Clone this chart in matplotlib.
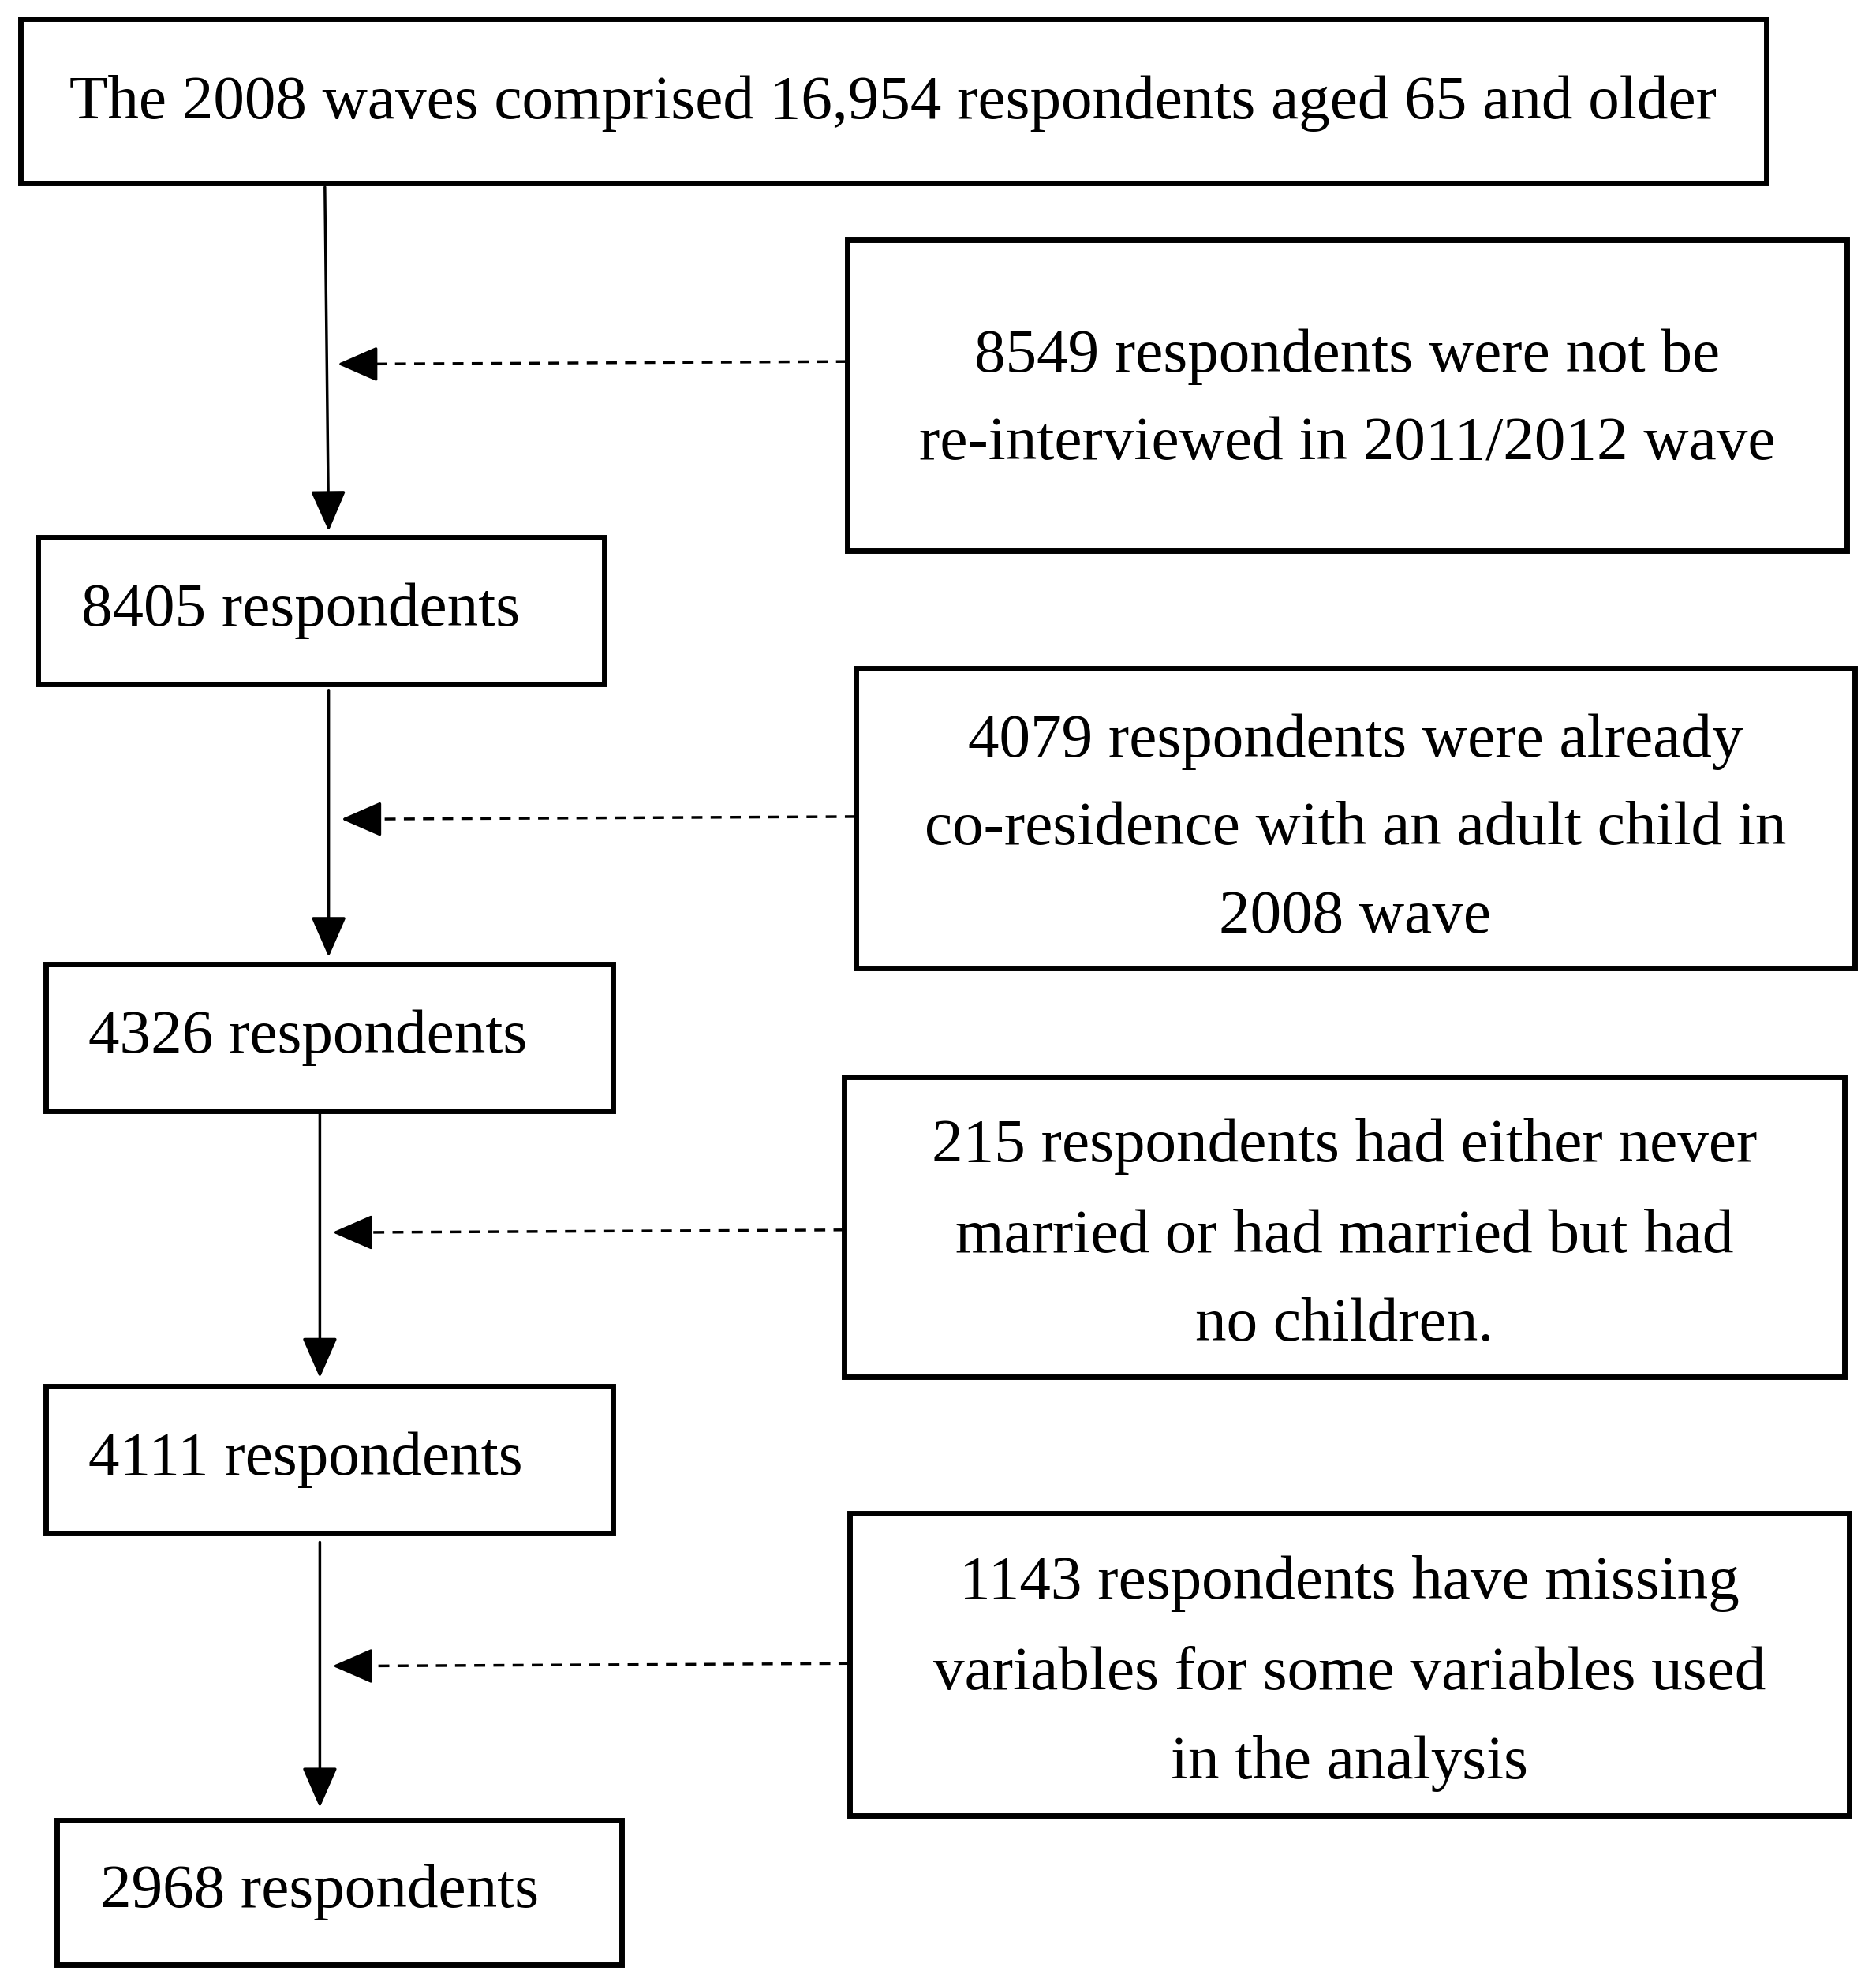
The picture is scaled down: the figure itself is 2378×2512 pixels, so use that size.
import matplotlib.pyplot as plt
from matplotlib.patches import Rectangle

# main flow boxes: (x0, y0, x1, y1) in reference pixel space
main_labels = ["The 2008 waves comprised 16,954 respondents aged 65 and older",
               "8405 respondents", "4326 respondents", "4111 respondents",
               "2968 respondents"]
main_boxes = [(16, 15, 1397, 145), (30, 425, 478, 541), (36, 763, 485, 879),
              (36, 1097, 485, 1213), (45, 1440, 492, 1554)]

# exclusion boxes
side_labels = [["8549 respondents were not be", "re-interviewed in 2011/2012 wave"],
               ["4079 respondents were already", "co-residence with an adult child in",
                "2008 wave"],
               ["215 respondents had either never", "married or had married but had",
                "no children."],
               ["1143 respondents have missing", "variables for some variables used",
                "in the analysis"]]
side_boxes = [(670, 190, 1461, 436), (677, 529, 1467, 766),
              (668, 852, 1459, 1089), (672, 1197, 1463, 1436)]
side_line_y = [[282, 352], [587, 656, 726], [907, 979, 1049], [1253, 1325, 1395]]

# arrows
vert = [(257, 148, 260, 420), (260, 546, 260, 757), (253, 880, 253, 1090), (253, 1220, 253, 1430)]
dashed_y = [288, 648, 975, 1318]

W, H = 1484, 1568
fig = plt.figure(figsize=(23.78, 25.12), dpi=100)
ax = fig.add_axes([0, 0, 1, 1])
ax.set_xlim(0, W)
ax.set_ylim(H, 0)
ax.axis("off")

font = dict(family="Liberation Serif", fontsize=57, color="black")
head = dict(arrowstyle="-|>,head_length=1.6,head_width=0.7", color="black",
            lw=2.5, shrinkA=0, shrinkB=0, mutation_scale=20)

for (x0, y0, x1, y1) in main_boxes + side_boxes:
    ax.add_patch(Rectangle((x0, y0), x1 - x0, y1 - y0, fill=False, lw=5, ec="black"))

ax.text((main_boxes[0][0] + main_boxes[0][2]) / 2, 82, main_labels[0],
        ha="center", va="center", **font)
for lab, b in zip(main_labels[1:], main_boxes[1:]):
    ax.text(b[0] + 34, (b[1] + b[3]) / 2, lab, ha="left", va="center", **font)

for lines, b, ys in zip(side_labels, side_boxes, side_line_y):
    cx = (b[0] + b[2]) / 2
    for t, y in zip(lines, ys):
        ax.text(cx, y, t, ha="center", va="center", **font)

for (x0, y0, x1, y1) in vert:
    ax.annotate("", xy=(x1, y1), xytext=(x0, y0), arrowprops=head)

for b, y, v in zip(side_boxes, dashed_y, vert):
    tip = v[0] + 10
    ax.plot([b[0], tip + 25], [y - 2, y], color="black", lw=2.5, ls=(0, (4, 3)))
    ax.annotate("", xy=(tip, y), xytext=(tip + 30, y), arrowprops=head)

fig.savefig("out.png", dpi=100, facecolor="white")
